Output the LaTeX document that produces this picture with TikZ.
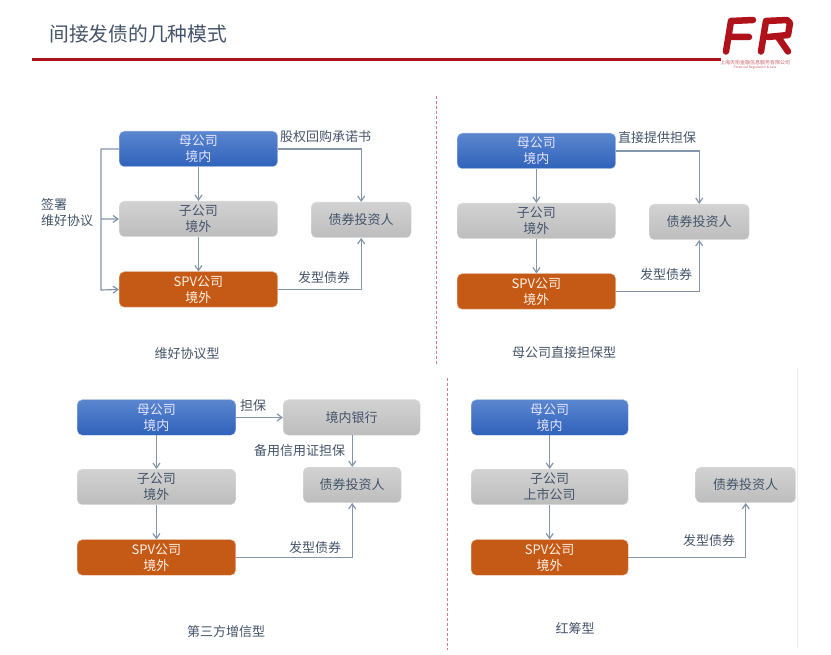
\documentclass[tikz,border=0pt]{standalone}
\usepackage{fontspec}
\setmainfont{Noto Sans CJK SC}
\usetikzlibrary{arrows.meta}
\definecolor{tcol}{HTML}{44546A}
\definecolor{wire}{HTML}{8496AB}
\definecolor{fr}{HTML}{B0121B}
\definecolor{mtop}{HTML}{5B86CF}
\definecolor{mbot}{HTML}{2F62BA}
\definecolor{gtop}{HTML}{D2D2D2}
\definecolor{gbot}{HTML}{BDBDBD}
\definecolor{oran}{HTML}{C55A17}
\tikzset{
 x=1pt,y=-1pt,
 boxbase/.style={rounded corners=5pt,minimum width=#1,minimum height=35.5pt,inner sep=0pt,align=center,font=\fontsize{13}{16}\selectfont,anchor=north west},
 mum/.style={boxbase=158.5pt,top color=mtop,bottom color=mbot,draw=mtop!45!white,text=white!90!blue},
 kid/.style={boxbase=158.5pt,top color=gtop,bottom color=gbot,draw=gtop!70!white,text=tcol},
 spv/.style={boxbase=158.5pt,fill=oran,draw=oran!45!white,text=white!90!orange},
 inv/.style={boxbase=100pt,top color=gtop,bottom color=gbot,draw=gtop!70!white,text=tcol},
 wirearrow/.style={draw=wire,line width=1.2pt,-{Straight Barb[length=5pt,width=7pt]}},
 lab/.style={font=\fontsize{13}{16}\selectfont,text=tcol,inner sep=0pt,align=left},
 captionlab/.style={font=\fontsize{13}{15}\selectfont,text=tcol,inner sep=0pt},
 divider/.style={draw=fr!55!white,line width=1pt,densely dashed}
}
\begin{document}
\begin{tikzpicture}
\useasboundingbox (0,0) rectangle (831,655);
\fill[white] (0,0) rectangle (831,655);
% header
\node[anchor=west,inner sep=0pt,font=\fontsize{19.8}{24}\selectfont,text=tcol] (title) at (49,34) {间接发债的几种模式};
\coordinate (ruleL) at (32,59.5); \coordinate (ruleR) at (721,59.5);
\draw[fr,line width=3.5pt] (ruleL) -- (ruleR);
% logo
\draw[fr,line width=6.5pt,line cap=round,line join=round]
 (726,51.5) -- (731,21) -- (753,20) (729,37) -- (749,37);
\draw[fr,line width=6.5pt,line cap=round,line join=round]
 (761,51.5) -- (766,21) -- (787,20) -- (790,23) -- (788,35) -- (768,37) (778,37) -- (788,51.5);
\node[inner sep=0pt,font=\fontsize{5}{6}\selectfont,text=fr!65] (logoa) at (755,62.5) {上海天衔金融信息服务有限公司};
\node[inner sep=0pt,font=\fontsize{3.4}{4}\selectfont,text=fr!65] (logob) at (755,67.5) {Financial Regulation \& Law};
% dividers
\coordinate (d1a) at (436,96); \coordinate (d1b) at (436,365);
\coordinate (d2a) at (447,378); \coordinate (d2b) at (447,650);
\draw[divider] (d1a) -- (d1b);
\draw[divider] (d2a) -- (d2b);
\coordinate (e1) at (797.5,368); \coordinate (e2) at (797.5,648);
\draw[black!8,line width=0.8pt] (e1) -- (e2);
% panel 1
\node[mum] (m1) at (119,131) {母公司\\境内};
\node[kid] (k1) at (119,201) {子公司\\境外};
\node[spv] (s1) at (119,271.5) {SPV公司\\境外};
\node[inv] (i1) at (311,202) {债券投资人};
\draw[wirearrow] (m1) -- (k1);
\draw[wirearrow] (k1) -- (s1);
\draw[wirearrow] (m1.east) -| (i1.north);
\draw[wirearrow] (s1.east) -| (i1.south);
\coordinate (b1) at (101,219);
\draw[wirearrow] (m1.west) -| (101,290) -- (s1.west);
\draw[wirearrow] (b1) -- (k1.west);
\node[lab,anchor=north west] (q1) at (41,198) {签署\\维好协议};
\node[lab,anchor=west] (g1) at (280,136.5) {股权回购承诺书};
\node[lab,anchor=west] (f1) at (298,277.5) {发型债券};
\node[captionlab] (c1) at (187,354) {维好协议型};
% panel 2
\node[mum] (m2) at (457,133) {母公司\\境内};
\node[kid] (k2) at (457,203) {子公司\\境外};
\node[spv] (s2) at (457,273.5) {SPV公司\\境外};
\node[inv] (i2) at (649,204) {债券投资人};
\draw[wirearrow] (m2) -- (k2);
\draw[wirearrow] (k2) -- (s2);
\draw[wirearrow] (m2.east) -| (i2.north);
\draw[wirearrow] (s2.east) -| (i2.south);
\node[lab,anchor=west] (g2) at (618,138) {直接提供担保};
\node[lab,anchor=west] (f2) at (640,274.5) {发型债券};
\node[captionlab] (c2) at (564,352.5) {母公司直接担保型};
% panel 3
\node[mum] (m3) at (77,399.5) {母公司\\境内};
\node[kid] (k3) at (77,469) {子公司\\境外};
\node[spv] (s3) at (77,539.5) {SPV公司\\境外};
\node[boxbase=137pt,top color=gtop,bottom color=gbot,draw=gtop!70!white,text=tcol] (b3) at (283,399.5) {境内银行};
\node[inv,minimum width=98pt] (i3) at (303,467) {债券投资人};
\draw[wirearrow] (m3) -- (k3);
\draw[wirearrow] (k3) -- (s3);
\draw[wirearrow] (m3.east) -- (b3.west);
\draw[wirearrow] (b3.south -| i3.north) -- (i3.north);
\draw[wirearrow] (s3.east) -| (i3.south);
\node[lab,anchor=west] (g3) at (240,405.5) {担保};
\node[lab,anchor=west] (h3) at (254,450.5) {备用信用证担保};
\node[lab,anchor=west] (f3) at (289,547.5) {发型债券};
\node[captionlab] (c3) at (226,632) {第三方增信型};
% panel 4
\node[mum,minimum width=157pt] (m4) at (471,399.5) {母公司\\境内};
\node[kid,minimum width=157pt] (k4) at (471,469) {子公司\\上市公司};
\node[spv,minimum width=157pt] (s4) at (471,539.5) {SPV公司\\境外};
\node[inv] (i4) at (695.5,467) {债券投资人};
\draw[wirearrow] (m4) -- (k4);
\draw[wirearrow] (k4) -- (s4);
\draw[wirearrow] (s4.east) -| (i4.south);
\node[lab,anchor=west] (f4) at (683,540.5) {发型债券};
\node[captionlab] (c4) at (575,628.5) {红筹型};
\end{tikzpicture}
\end{document}
